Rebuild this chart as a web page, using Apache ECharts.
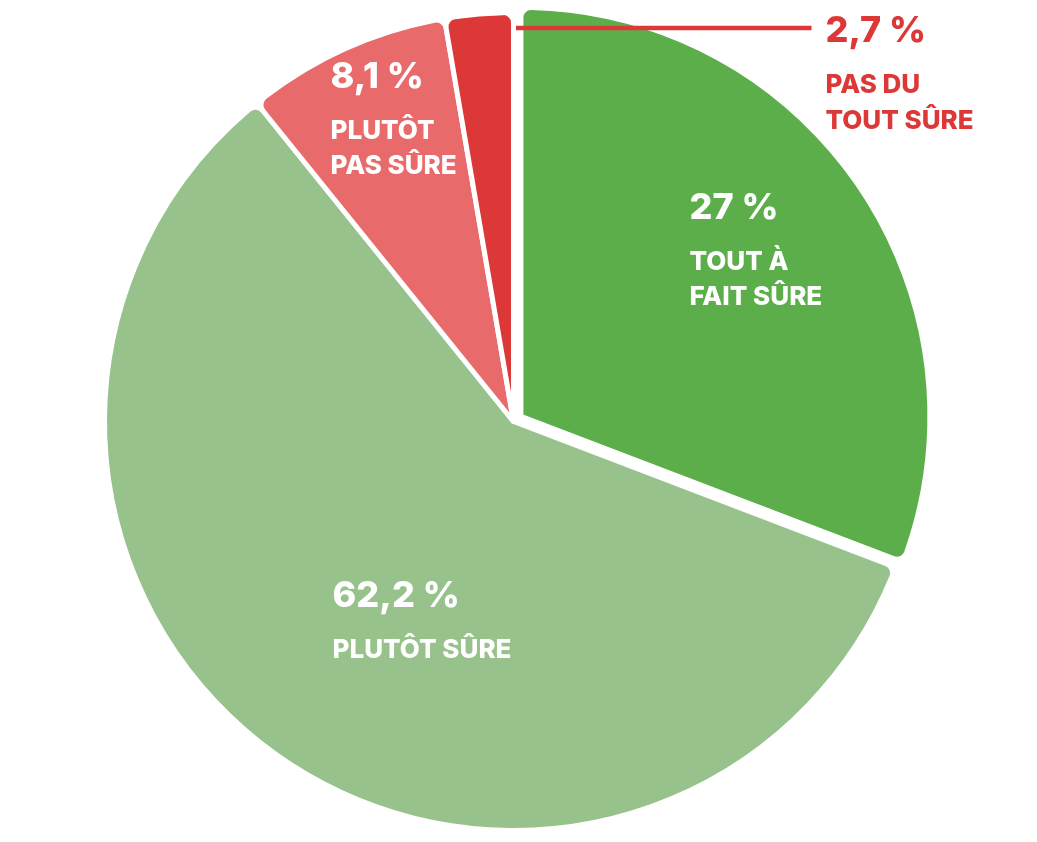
<!DOCTYPE html>
<html>
<head>
<meta charset="utf-8">
<script src="https://cdn.jsdelivr.net/npm/echarts@6/dist/echarts.min.js"></script>
<style>
html,body{margin:0;padding:0;background:#fff;}
#chart{width:1037px;height:842px;}
</style>
</head>
<body>
<div id="chart"></div>
<script>
// ---- data ----
const categories = ['TOUT À\nFAIT SÛRE', 'PLUTÔT SÛRE', 'PLUTÔT\nPAS SÛRE', 'PAS DU\nTOUT SÛRE'];
// slice sizes as drawn in the picture (angles measured)
const values = [30.8, 58.4, 8.1, 2.7];
// printed value labels
const valueLabels = ['27 %', '62,2 %', '8,1 %', '2,7 %'];

// ---- styles / layout ----
const colors = ['#5cae4a', '#97c28c', '#e96a6a', '#dd3838'];
const CX = 513.5, CY = 421.5, R = 409;
const EXPLODE = 9;            // offset of the first slice
// label anchors (top-left), relative to pie centre
const labelOffsets = [[176, -249], [-181, 139], [-183, -380], [312, -426]];

const chart = echarts.init(document.getElementById('chart'), null, {renderer: 'canvas'});

function richFor(i) {
  const c = i === 3 ? '#dd3838' : '#ffffff';
  return {
    a: {fontFamily: 'Inter', fontWeight: 800, fontSize: 36, color: c, lineHeight: i === 3 ? 72 : 72},
    b: {fontFamily: 'Inter', fontWeight: 800, fontSize: 26, color: c, lineHeight: i === 3 ? 36 : 35}
  };
}

const total = values.reduce((s, v) => s + v, 0);
const midAngle0 = (values[0] / total) * Math.PI; // radians clockwise from top
const exCenter = [CX + EXPLODE * Math.sin(midAngle0), CY - EXPLODE * Math.cos(midAngle0)];

function makeData(visibleFn, labelFn) {
  return values.map((v, i) => {
    const vis = visibleFn(i);
    const showLabel = labelFn(i);
    return {
      name: categories[i],
      value: v,
      itemStyle: vis ? {color: colors[i]} : {color: 'rgba(0,0,0,0)', borderWidth: 0},
      label: {
        show: showLabel,
        position: i === 3 ? 'outside' : 'inside',
        formatter: '{a|' + valueLabels[i] + '}\n' + categories[i].split('\n').map(s => '{b|' + s + '}').join('\n'),
        rich: richFor(i),
        align: 'left'
      },
      labelLine: {show: showLabel && i === 3, lineStyle: {color: colors[3], width: 4.5}, length: 5, length2: 10}
    };
  });
}

function layoutFn(params) {
  const i = params.dataIndex;
  const o = labelOffsets[i];
  const res = {x: CX + o[0], y: CY + o[1], align: 'left', verticalAlign: 'top'};
  if (i === 3 && params.labelLinePoints) {
    const p0 = params.labelLinePoints[0];
    const ly = p0[1] + 14;
    res.labelLinePoints = [[p0[0], ly], [p0[0] + 1, ly], [CX + o[0] - 14, ly]];
  }
  return res;
}

const common = {
  type: 'pie',
  radius: [0, R],
  startAngle: 90,
  clockwise: true,
  avoidLabelOverlap: false,
  selectedMode: false,
  itemStyle: {borderColor: '#ffffff', borderWidth: 5, borderRadius: 10},
  emphasis: {disabled: true},
  labelLayout: layoutFn
};

chart.setOption({
  animation: false,
  series: [
    Object.assign({}, common, {
      name: 'exploded',
      z: 1,
      center: exCenter,
      data: makeData(i => i === 0, i => i === 0)
    }),
    Object.assign({}, common, {
      name: 'base',
      z: 2,
      center: [CX, CY],
      data: makeData(i => i !== 0, i => i !== 0)
    })
  ]
});
</script>
</body>
</html>
